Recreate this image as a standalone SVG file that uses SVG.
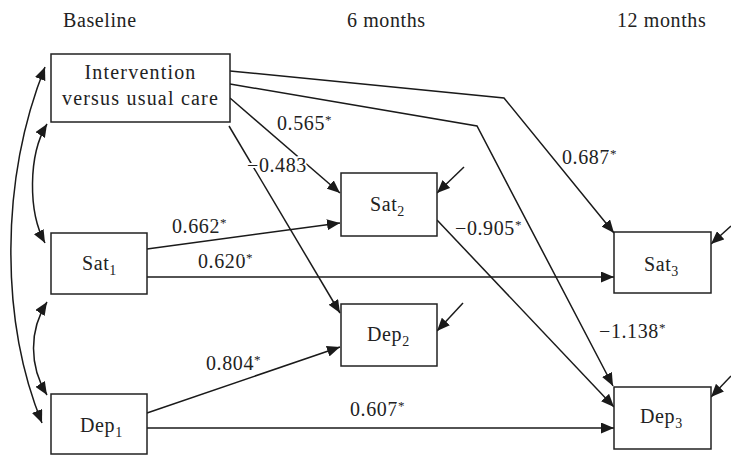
<svg xmlns="http://www.w3.org/2000/svg" width="731" height="456" viewBox="0 0 731 456">
<defs>
<marker id="ah" markerUnits="userSpaceOnUse" markerWidth="13" markerHeight="11" refX="13" refY="5.5" orient="auto-start-reverse" viewBox="0 0 13 11">
<path d="M0,0 L13,5.5 L0,11 z" fill="#1a1a1a"/>
</marker>
</defs>
<style>
text{font-family:"Liberation Serif","Times New Roman",serif;font-size:20px;fill:#222;letter-spacing:0.6px}
.box{fill:#fff;stroke:#222;stroke-width:1.5}
.c{fill:none;stroke:#1a1a1a;stroke-width:1.5;marker-end:url(#ah)}
.b{marker-start:url(#ah)}
.lbl{paint-order:stroke;stroke:#fff;stroke-width:4px}
.sub{font-size:14px}
.st{font-size:13px}
</style>
<rect width="731" height="456" fill="#fff"/>
<g id="headers">
<text x="63" y="27">Baseline</text>
<text x="347" y="27">6 months</text>
<text x="617" y="27">12 months</text>
</g>
<g id="connectors">
<polyline class="c" points="230,71 504,98 614,233"/>
<polyline class="c" points="230,84 477,126 613,386"/>
<line class="c" x1="230" y1="98" x2="340" y2="193"/>
<line class="c" x1="229" y1="126" x2="340" y2="313"/>
<line class="c" x1="147" y1="249" x2="340" y2="223"/>
<line class="c" x1="147" y1="277" x2="614" y2="277"/>
<line class="c" x1="147" y1="413" x2="340" y2="347"/>
<line class="c" x1="147" y1="428" x2="614" y2="428"/>
<line class="c" x1="437" y1="220" x2="614" y2="407"/>
<line class="c" x1="464" y1="167" x2="437" y2="193"/>
<line class="c" x1="731" y1="226" x2="711" y2="244"/>
<line class="c" x1="463" y1="303" x2="437" y2="331"/>
<line class="c" x1="731" y1="376" x2="711" y2="397"/>
<path class="c b" d="M47,124 C28,155 28,212 45,243"/>
<path class="c b" d="M47,302 C29,330 29,366 47,395"/>
<path class="c b" d="M45,67 C0,180 0,320 42,423"/>
</g>
<g id="labels">
<text class="lbl" x="277" y="130">0.565<tspan class="st" dy="-6">*</tspan></text>
<text class="lbl" x="247" y="172">−0.483</text>
<text class="lbl" x="172" y="233">0.662<tspan class="st" dy="-6">*</tspan></text>
<text class="lbl" x="198" y="268">0.620<tspan class="st" dy="-6">*</tspan></text>
<text class="lbl" x="206" y="370">0.804<tspan class="st" dy="-6">*</tspan></text>
<text class="lbl" x="350" y="416">0.607<tspan class="st" dy="-6">*</tspan></text>
<text class="lbl" x="562" y="164">0.687<tspan class="st" dy="-6">*</tspan></text>
<text class="lbl" x="455" y="235">−0.905<tspan class="st" dy="-6">*</tspan></text>
<text class="lbl" x="599" y="338">−1.138<tspan class="st" dy="-6">*</tspan></text>
</g>
<g id="intervention">
<rect class="box" x="51" y="54" width="179" height="68"/>
<text x="140.5" y="79" text-anchor="middle" style="letter-spacing:1.2px">Intervention</text>
<text x="140.5" y="105" text-anchor="middle" style="letter-spacing:1.2px">versus usual care</text>
</g>
<g id="sat1">
<rect class="box" x="51" y="233" width="96" height="61"/>
<text x="82" y="270">Sat<tspan class="sub" dy="5">1</tspan></text>
</g>
<g id="dep1">
<rect class="box" x="51" y="394" width="96" height="60"/>
<text x="80" y="432">Dep<tspan class="sub" dy="5">1</tspan></text>
</g>
<g id="sat2">
<rect class="box" x="341" y="173" width="96" height="63"/>
<text x="370" y="211">Sat<tspan class="sub" dy="5">2</tspan></text>
</g>
<g id="dep2">
<rect class="box" x="341" y="304" width="96" height="62"/>
<text x="367" y="341">Dep<tspan class="sub" dy="5">2</tspan></text>
</g>
<g id="sat3">
<rect class="box" x="614" y="232" width="97" height="61"/>
<text x="644" y="271">Sat<tspan class="sub" dy="5">3</tspan></text>
</g>
<g id="dep3">
<rect class="box" x="614" y="387" width="97" height="62"/>
<text x="640" y="423">Dep<tspan class="sub" dy="5">3</tspan></text>
</g>
</svg>
